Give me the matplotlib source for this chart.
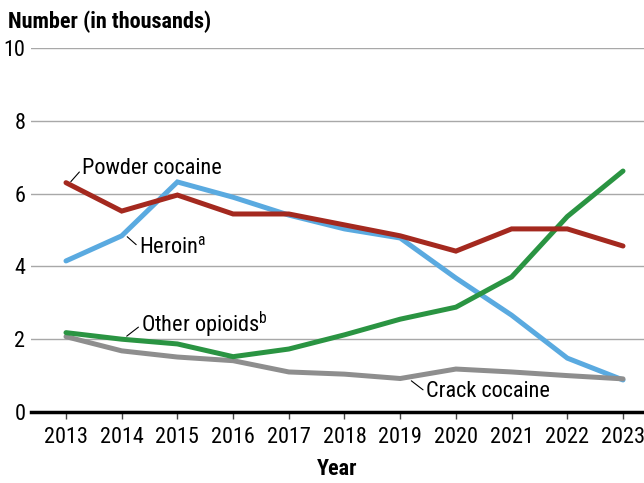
import matplotlib
matplotlib.use("Agg")
import matplotlib.pyplot as plt
from matplotlib import font_manager as fm

years = [2013, 2014, 2015, 2016, 2017, 2018, 2019, 2020, 2021, 2022, 2023]
powder_cocaine = [6.3, 5.52, 5.96, 5.44, 5.44, 5.14, 4.84, 4.42, 5.03, 5.03, 4.56]
heroin = [4.15, 4.84, 6.32, 5.9, 5.41, 5.03, 4.78, 3.68, 2.66, 1.48, 0.88]
other_opioids = [2.18, 2.0, 1.87, 1.52, 1.73, 2.12, 2.55, 2.88, 3.71, 5.37, 6.62]
crack_cocaine = [2.07, 1.68, 1.51, 1.41, 1.10, 1.04, 0.92, 1.18, 1.10, 1.0, 0.91]
y_ticks = [0, 2, 4, 6, 8, 10]


def wnum(w):
    if isinstance(w, int):
        return w
    return {'bold': 700, 'heavy': 800, 'black': 900, 'semibold': 600,
            'demibold': 600, 'extra bold': 800}.get(str(w).lower(), 400)


entries = fm.fontManager.ttflist
names = {}
for f in entries:
    if 'Narrow' in f.name or 'Condensed' in f.name:
        names.setdefault(f.name, set()).add(wnum(f.weight))
pref = ['Liberation Sans Narrow', 'Roboto Condensed', 'Open Sans Condensed',
        'Noto Sans Condensed']
chosen = None
for p in pref:
    if p in names and max(names[p]) >= 700:
        chosen = p
        break
if chosen is None:
    with_bold = [n for n in names if max(names[n]) >= 700]
    if with_bold:
        chosen = sorted(with_bold)[0]
    elif names:
        chosen = sorted(names)[0]

if chosen:
    plt.rcParams['font.family'] = [chosen, 'DejaVu Sans']
    fs = 16
else:
    plt.rcParams['font.family'] = ['DejaVu Sans']
    plt.rcParams['font.stretch'] = 'condensed'
    fs = 14

fig = plt.figure(figsize=(6.44, 4.83), dpi=100)
ax = fig.add_axes([31/644, 71/483, 613/644, 364/483])

lw = 3.6
style = dict(lw=lw, solid_capstyle='round', solid_joinstyle='miter')
ax.plot(years, heroin, color='#5AAAE0', zorder=3, **style)
ax.plot(years, crack_cocaine, color='#8E8E8E', zorder=3, **style)
ax.plot(years, other_opioids, color='#2A9442', zorder=4, **style)
ax.plot(years, powder_cocaine, color='#A4291F', zorder=5, **style)

ax.set_xlim(2013 - 35/55.7, 2023 + 21/55.7)
ax.set_ylim(0, 10)
ax.set_yticks(y_ticks)
ax.set_xticks(years)
ax.set_xticklabels([str(y) for y in years])
ax.yaxis.grid(True, color='#A8A8A8', lw=1.0)
ax.set_axisbelow(True)
for s in ['top', 'right', 'left']:
    ax.spines[s].set_visible(False)
ax.spines['bottom'].set_linewidth(2.5)
ax.spines['bottom'].set_color('black')
ax.spines['bottom'].set_zorder(6)
ax.tick_params(axis='y', length=0, labelsize=fs, pad=4)
ax.tick_params(axis='x', length=5, width=1, color='#444444', labelsize=fs, pad=6)

ax.set_xlabel('Year', fontsize=fs, fontweight='bold', labelpad=7)
fig.text(8/644, 1 - 22/483, 'Number (in thousands)', fontsize=fs, fontweight='bold',
         ha='left', va='center')


def label(xy, xytext, text):
    ax.annotate(text, xy=xy, xytext=xytext, textcoords='data', fontsize=fs,
                ha='left', va='center',
                arrowprops=dict(arrowstyle='-', color='black', lw=0.8,
                                shrinkA=0, shrinkB=1, relpos=(0, 0.5)))


label((2013.07, 6.30), (2013.29, 6.68), 'Powder cocaine')
label((2014.08, 4.84), (2014.31, 4.53), 'Heroin$^{\\mathregular{a}}$')
label((2014.07, 2.06), (2014.35, 2.39), 'Other opioids$^{\\mathregular{b}}$')
label((2019.18, 0.88), (2019.46, 0.55), 'Crack cocaine')

fig.savefig('out.png', dpi=100)
